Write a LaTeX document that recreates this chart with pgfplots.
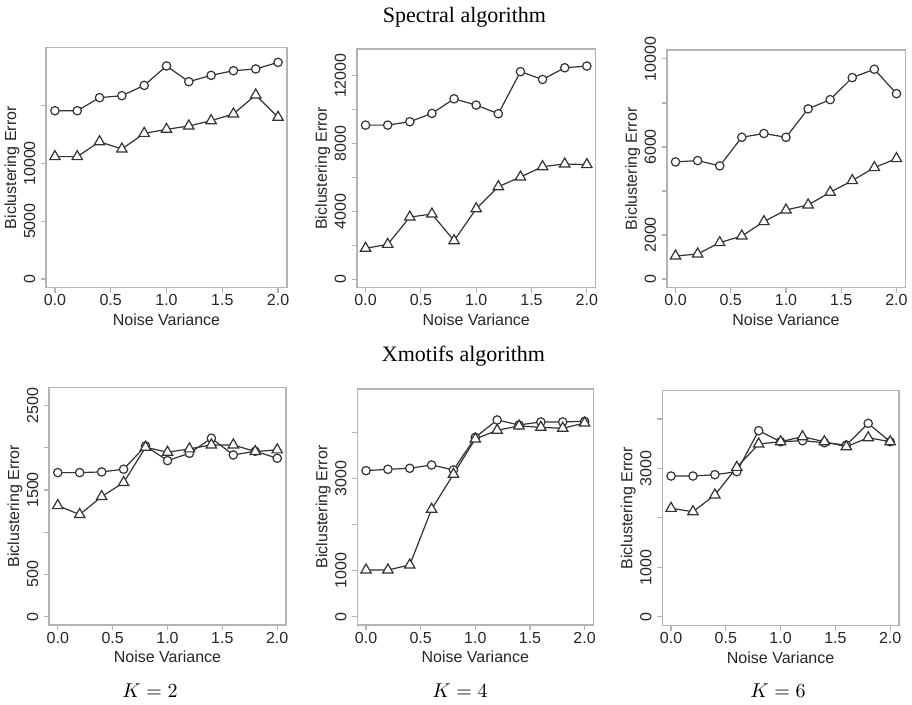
\documentclass[border=0pt]{standalone}
\usepackage{fontspec}
\setmainfont{Liberation Sans}
\newfontfamily\timesfont{Liberation Serif}
\usepackage{pgfplots}
\pgfplotsset{compat=1.18}

\definecolor{linec}{HTML}{333333}
\definecolor{framec}{HTML}{B4B4B4}
\definecolor{textc}{HTML}{262626}

\pgfplotsset{
  rpanel/.style={
    scale only axis,
    xmin=-0.08, xmax=2.08,
    axis line style={framec, line width=0.8pt},
    tick align=outside,
    xtick pos=bottom, ytick pos=left,
    major tick length=2.5pt,
    tick style={framec, line width=0.6pt},
    xtick={0,0.5,1,1.5,2},
    xticklabels={0.0,0.5,1.0,1.5,2.0},
    scaled ticks=false,
    /pgf/number format/1000 sep={},
    ticklabel style={font=\fontsize{8}{9.6}\selectfont, text=textc},
    xticklabel style={anchor=center, yshift=-3.9pt},
    yticklabel style={rotate=90, anchor=center, yshift=5.7pt},
    every axis x label/.style={at={(axis description cs:0.5,0)}, anchor=center,
      yshift=-15.85pt, font=\fontsize{8}{9.6}\selectfont, text=textc},
    every axis y label/.style={at={(axis description cs:0,0.5)}, rotate=90, anchor=center,
      yshift=17pt, font=\fontsize{8}{9.6}\selectfont, text=textc},
    xlabel={Noise Variance},
    ylabel={Biclustering Error},
    every axis plot/.append style={color=linec, line width=0.6pt, mark options={fill=white, solid}},
  },
  circ/.style={mark=*, mark size=2.1pt},
  tri/.style={mark=triangle*, mark size=3pt},
}

\begin{document}
\begin{tikzpicture}
\useasboundingbox (0,0) rectangle (456pt,352.5pt);

% ---- Spectral algorithm ----
\begin{axis}[rpanel, at={(23pt,208.65pt)}, anchor=south west,
  width=120.5pt, height=120pt, ymin=-750, ymax=20000,
  ytick={0,5000,10000,15000}, yticklabels={0,5000,10000,{}}]
\addplot[circ] coordinates {
  (0,14550) (0.2,14550) (0.4,15680) (0.6,15850) (0.8,16740) (1.0,18420)
  (1.2,17060) (1.4,17610) (1.6,18010) (1.8,18160) (2.0,18730)};
\addplot[tri] coordinates {
  (0,10580) (0.2,10580) (0.4,11870) (0.6,11240) (0.8,12590) (1.0,12940)
  (1.2,13230) (1.4,13690) (1.6,14270) (1.8,15910) (2.0,13980)};
\end{axis}

\begin{axis}[rpanel, at={(178.35pt,208.65pt)}, anchor=south west,
  width=119.5pt, height=119.3pt, ymin=-491, ymax=13570,
  ytick={0,2000,4000,6000,8000,10000,12000},
  yticklabels={0,{},4000,{},8000,{},12000}]
\addplot[circ] coordinates {
  (0,9090) (0.2,9090) (0.4,9290) (0.6,9780) (0.8,10640) (1.0,10270)
  (1.2,9760) (1.4,12240) (1.6,11780) (1.8,12470) (2.0,12570)};
\addplot[tri] coordinates {
  (0,1830) (0.2,2060) (0.4,3670) (0.6,3850) (0.8,2280) (1.0,4160)
  (1.2,5460) (1.4,6030) (1.6,6640) (1.8,6800) (2.0,6760)};
\end{axis}

\begin{axis}[rpanel, at={(333.35pt,208.65pt)}, anchor=south west,
  width=119.3pt, height=118.9pt, ymin=-394, ymax=10409,
  ytick={0,2000,4000,6000,8000,10000},
  yticklabels={0,2000,{},6000,{},10000}]
\addplot[circ] coordinates {
  (0,5320) (0.2,5380) (0.4,5140) (0.6,6440) (0.8,6610) (1.0,6440)
  (1.2,7730) (1.4,8150) (1.6,9150) (1.8,9530) (2.0,8420)};
\addplot[tri] coordinates {
  (0,1045) (0.2,1136) (0.4,1652) (0.6,1955) (0.8,2606) (1.0,3136)
  (1.2,3364) (1.4,3939) (1.6,4470) (1.8,5061) (2.0,5470)};
\end{axis}

% ---- Xmotifs algorithm ----
\begin{axis}[rpanel, at={(24.5pt,40pt)}, anchor=south west,
  width=118.5pt, height=118.7pt, ymin=-99, ymax=2713,
  ytick={0,500,1000,1500,2000,2500},
  yticklabels={0,500,{},1500,{},2500}]
\addplot[circ] coordinates {
  (0,1706) (0.2,1706) (0.4,1714) (0.6,1746) (0.8,2022) (1.0,1848)
  (1.2,1935) (1.4,2113) (1.6,1915) (1.8,1959) (2.0,1876)};
\addplot[tri] coordinates {
  (0,1315) (0.2,1209) (0.4,1422) (0.6,1588) (0.8,2006) (1.0,1947)
  (1.2,1987) (1.4,2034) (1.6,2034) (1.8,1955) (2.0,1975)};
\end{axis}

\begin{axis}[rpanel, at={(178.65pt,40pt)}, anchor=south west,
  width=118pt, height=118pt, ymin=-181, ymax=4937,
  ytick={0,1000,2000,3000,4000},
  yticklabels={0,1000,{},3000,{}}]
\addplot[circ] coordinates {
  (0,3166) (0.2,3195) (0.4,3217) (0.6,3289) (0.8,3181) (1.0,3889)
  (1.2,4265) (1.4,4157) (1.6,4222) (1.8,4222) (2.0,4236)};
\addplot[tri] coordinates {
  (0,1012) (0.2,1012) (0.4,1120) (0.6,2328) (0.8,3087) (1.0,3853)
  (1.2,4041) (1.4,4135) (1.6,4106) (1.8,4084) (2.0,4200)};
\end{axis}

\begin{axis}[rpanel, at={(331.15pt,39.65pt)}, anchor=south west,
  width=118.3pt, height=117.5pt, ymin=-182, ymax=4571,
  ytick={0,1000,2000,3000,4000},
  yticklabels={0,1000,{},3000,{}}]
\addplot[circ] coordinates {
  (0,2845) (0.2,2845) (0.4,2872) (0.6,2933) (0.8,3762) (1.0,3539)
  (1.2,3560) (1.4,3519) (1.6,3472) (1.8,3910) (2.0,3539)};
\addplot[tri] coordinates {
  (0,2191) (0.2,2124) (0.4,2461) (0.6,3020) (0.8,3492) (1.0,3539)
  (1.2,3641) (1.4,3539) (1.6,3438) (1.8,3620) (2.0,3539)};
\end{axis}

% titles and captions
\node[anchor=base, font=\timesfont\fontsize{11}{13}\selectfont] at (232.25pt,341pt) {Spectral algorithm};
\node[anchor=base, font=\timesfont\fontsize{11}{13}\selectfont] at (231.75pt,171.5pt) {Xmotifs algorithm};
\node[anchor=base, font=\fontsize{10}{12}\selectfont] at (75pt,3.5pt) {$K=2$};
\node[anchor=base, font=\fontsize{10}{12}\selectfont] at (230pt,3.5pt) {$K=4$};
\node[anchor=base, font=\fontsize{10}{12}\selectfont] at (389pt,3.5pt) {$K=6$};
\end{tikzpicture}
\end{document}
